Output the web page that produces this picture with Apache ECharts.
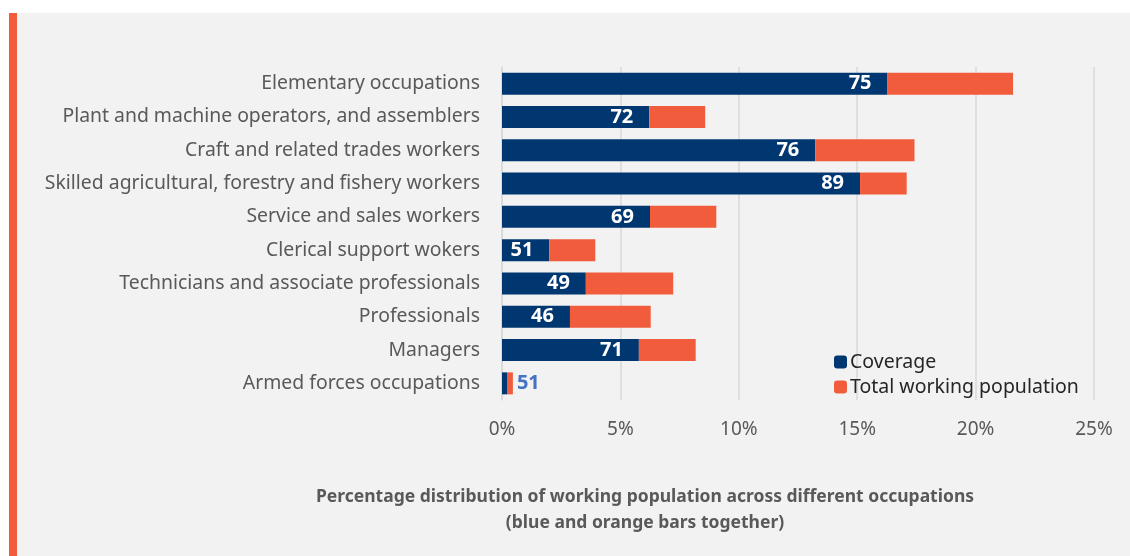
<!DOCTYPE html>
<html>
<head>
<meta charset="utf-8">
<script src="https://cdn.jsdelivr.net/npm/echarts@6/dist/echarts.min.js"></script>
<style>
  html, body { margin: 0; padding: 0; background: #fff; }
  #chart { width: 1130px; height: 556px; }
</style>
</head>
<body>
<div id="chart"></div>
<script>
// occupations, top to bottom as in the picture
const occupations = [
  'Elementary occupations',
  'Plant and machine operators, and assemblers',
  'Craft and related trades workers',
  'Skilled agricultural, forestry and fishery workers',
  'Service and sales workers',
  'Clerical support wokers',
  'Technicians and associate professionals',
  'Professionals',
  'Managers',
  'Armed forces occupations'
]
// blue part of each bar (% of working population that is covered)
const coveredShare = [16.28, 6.22, 13.23, 15.12, 6.25, 2.00, 3.54, 2.87, 5.78, 0.21]
// orange part (rest of the occupation's share of working population)
const restShare = [5.30, 2.36, 4.19, 1.97, 2.80, 1.94, 3.69, 3.41, 2.40, 0.25]
// coverage rate written on the bars
const coverageLabels = [75, 72, 76, 89, 69, 51, 49, 46, 71, 51]

const xTicks = [0, 5, 10, 15, 20, 25]

const font = "'Noto Sans', sans-serif"
const blue = '#003770'
const orange = '#F15D3C'

const chart = echarts.init(document.getElementById('chart'))

// echarts draws category axis bottom-up, so reverse
const cats = occupations.slice().reverse()
const blueData = coveredShare.slice().reverse()
const orangeData = restShare.slice().reverse()
const labs = coverageLabels.slice().reverse()

chart.setOption({
  backgroundColor: '#ffffff',
  animation: false,
  textStyle: { fontFamily: font },
  graphic: [
    { type: 'rect', z: -10, shape: { x: 9, y: 13, width: 1121, height: 543 }, style: { fill: '#F2F2F2' } },
    { type: 'rect', z: -9, shape: { x: 9, y: 13, width: 8, height: 543 }, style: { fill: '#F15D3C' } }
  ],
  title: {
    text: 'Percentage distribution of working population across different occupations\n(blue and orange bars together)',
    left: 640,
    top: 479,
    textAlign: 'center',
    textStyle: { fontFamily: font, fontSize: 17.5, fontWeight: 'bold', color: '#595959', lineHeight: 26 }
  },
  legend: {
    orient: 'vertical',
    left: 829,
    top: 347,
    itemWidth: 13,
    itemHeight: 13,
    itemGap: 5,
    textStyle: { fontFamily: font, fontSize: 19.5, color: '#262626', padding: [0, 0, 0, -2] },
    data: ['Coverage', 'Total working population']
  },
  grid: { left: 502, right: 36, top: 67, bottom: 156, containLabel: false },
  xAxis: {
    type: 'value',
    min: xTicks[0],
    max: xTicks[xTicks.length - 1],
    interval: 5,
    axisLine: { show: false },
    axisTick: { show: false },
    splitLine: { lineStyle: { color: '#D9D9D9', width: 1.5 } },
    axisLabel: { formatter: '{value}%', fontSize: 19, color: '#595959', margin: 20, fontFamily: font }
  },
  yAxis: {
    type: 'category',
    data: cats,
    axisLine: { show: true, lineStyle: { color: '#D9D9D9', width: 1.5 } },
    axisTick: { show: false },
    axisLabel: { fontSize: 19.4, color: '#595959', margin: 22, fontFamily: font, padding: [3, 0, 0, 0] }
  },
  series: [
    {
      name: 'Coverage',
      type: 'bar',
      stack: 'total',
      barWidth: 22,
      itemStyle: { color: blue },
      data: blueData.map((v, i) => ({
        value: v,
        label: i === 0 ? { show: false } : undefined
      })),
      label: {
        show: true,
        position: 'insideRight',
        distance: 16,
        color: '#fff',
        fontWeight: 'bold',
        fontSize: 20,
        fontFamily: font,
        formatter: p => labs[p.dataIndex]
      }
    },
    {
      name: 'Total working population',
      type: 'bar',
      stack: 'total',
      barWidth: 22,
      itemStyle: { color: orange },
      data: orangeData.map((v, i) => ({
        value: v,
        label: i === 0 ? {
          show: true,
          position: 'right',
          distance: 4,
          color: '#4472C4',
          fontWeight: 'bold',
          fontSize: 20,
          fontFamily: font,
          formatter: () => labs[0]
        } : { show: false }
      }))
    }
  ]
})
</script>
</body>
</html>
